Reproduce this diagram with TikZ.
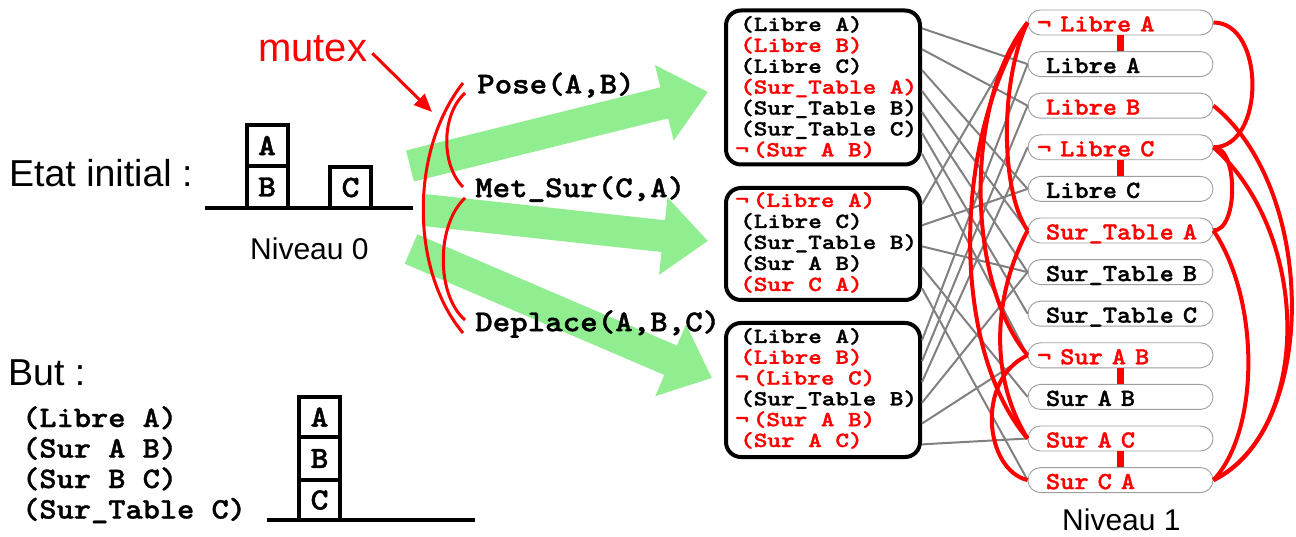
\documentclass[tikz,border=0pt]{standalone}
\usepackage{fontspec}
\setmainfont{Liberation Sans}
\newfontfamily\cour{lmmonolt10-bold.otf}[FakeBold=1.2]
\usepackage{graphicx}
\usetikzlibrary{arrows.meta,calc}
\definecolor{lgreen}{HTML}{90EE90}
% widened typewriter letters (Courier-like proportions)
\newcommand\cw[1]{\scalebox{1.1}[1]{#1}}
\newcommand\cwr[1]{\scalebox{1.2}[1]{#1}}
\newcommand\negsym{\cw{¬}}
\newcommand\negrow{\cwr{¬}}
\begin{document}
\begin{tikzpicture}[x=1pt,y=-1pt,
  blk/.style={draw,line width=4pt,minimum width=41pt,minimum height=41pt,inner sep=0pt,
    font=\fontsize{31}{31}\selectfont\cour},
  ground/.style={line width=4pt},
  mbox/.style={draw,line width=4pt,rounded corners=15pt,minimum width=194pt,fill=white},
  row/.style={anchor=base west,inner sep=0pt,text height=14pt,text depth=3pt,
    font=\fontsize{21.6}{21}\selectfont\cour},
  pill/.style={draw=black!38,line width=0.9pt,fill=white,rounded corners=12.5pt,
    minimum width=185pt,minimum height=25pt,text width=149pt,align=left,
    inner xsep=18pt,inner ysep=0pt,text height=18pt,text depth=0pt,
    font=\fontsize{24.6}{24.6}\selectfont\cour},
  act/.style={anchor=west,inner sep=0pt,font=\fontsize{30.3}{30}\selectfont\cour},
  goal/.style={anchor=base west,inner sep=0pt,text height=19pt,text depth=5pt,
    font=\fontsize{29.8}{30}\selectfont\cour},
  title/.style={anchor=base west,inner sep=0pt,font=\fontsize{37.5}{38}\selectfont},
  level/.style={anchor=base west,inner sep=0pt,font=\fontsize{30}{30}\selectfont},
  flow/.style={draw=lgreen,line width=32pt,-{Triangle[length=45pt,width=75pt]}},
  link/.style={draw=gray,line width=2pt},
  amx/.style={draw=red,line width=3pt},
  mx/.style={draw=red,line width=4pt},
  neg/.style={draw=red,line width=7pt},
]
\useasboundingbox (0,0) rectangle (1296,537);

% ---------- level 0 : initial state ----------
\node[title] (etat) at (9,187) {Etat initial :};
\node[blk] (iA) at (267,145.5) {\cw{A}};
\node[blk,minimum height=42pt] (iB) at (267,187) {\cw{B}};
\node[blk] (iC) at (350.5,187.5) {\cw{C}};
\coordinate (g0l) at (205,208);
\coordinate (g0r) at (413,208);
\draw[ground] (g0l) -- (g0r);
\node[level] (niv0) at (250,260) {Niveau 0};

% ---------- goal ----------
\node[title] (but) at (8,385) {But :};
\node[goal] (go1) at (22,427) {\cw{(Libre A)}};
\node[goal] (go2) at (22,457.5) {\cw{(Sur A B)}};
\node[goal] (go3) at (22,488) {\cw{(Sur B C)}};
\node[goal] (go4) at (22,518.5) {\cw{(Sur\_Table C)}};
\node[blk,minimum height=40pt] (gA) at (319.5,417) {\cw{A}};
\node[blk,minimum height=43pt] (gB) at (319.5,458.5) {\cw{B}};
\node[blk,minimum height=40pt] (gC) at (319.5,500) {\cw{C}};
\coordinate (g1l) at (267,520);
\coordinate (g1r) at (475,520);
\draw[ground] (g1l) -- (g1r);

% ---------- actions (green flows) ----------
\coordinate (f1s) at (410,166);  \coordinate (f1e) at (708,92);
\coordinate (f2s) at (424,210);  \coordinate (f2e) at (708,241);
\coordinate (f3s) at (411,249);  \coordinate (f3e) at (712,378);
\draw[flow] (f1s) -- (f1e);
\draw[flow] (f2s) -- (f2e);
\draw[flow] (f3s) -- (f3e);

\node[act] (pose) at (477,85) {\cw{Pose(A,B)}};
\node[act] (met) at (475,189) {\cw{Met\_Sur(C,A)}};
\node[act] (dep) at (475,324) {\cw{Deplace(A,B,C)}};

% mutex arcs between actions
\draw[amx] ($(pose.west)+(-14,-2)$) .. controls (410,150) and (410,270) .. ($(dep.west)+(-12,9)$);
\draw[amx] ($(pose.west)+(-12,8)$) .. controls (441,115) and (441,165) .. ($(met.west)+(-12,-2)$);
\draw[amx] ($(met.west)+(-10,9)$) .. controls (436,225) and (436,295) .. ($(dep.west)+(-10,-4)$);

\node[anchor=base west,inner sep=0pt,text=red,font=\fontsize{40}{40}\selectfont] (mutex) at (258,62) {mutex};
\coordinate (mxtip) at (432,112);
\draw[red,line width=3pt,-{Triangle[length=18pt,width=15pt]}] ($(mutex.east)+(5,4)$) -- (mxtip);

% ---------- result boxes of the actions ----------
\node[mbox,minimum height=154pt] (b1) at (823,87.5) {};
\node[mbox,minimum height=112pt] (b2) at (823,244) {};
\node[mbox,minimum height=134pt] (b3) at (823,390) {};

\node[row] (b1r1) at (740,31) {\cwr{(Libre A)}};
\node[row,text=red] (b1r2) at (740,51.9) {\cwr{(Libre B)}};
\node[row] (b1r3) at (740,72.8) {\cwr{(Libre C)}};
\node[row,text=red] (b1r4) at (740,93.7) {\cwr{(Sur\_Table A)}};
\node[row] (b1r5) at (740,114.6) {\cwr{(Sur\_Table B)}};
\node[row] (b1r6) at (740,135.5) {\cwr{(Sur\_Table C)}};
\node[row,text=red] (b1r7) at (735,156.4) {\negrow\hspace{4pt}\cwr{(Sur A B)}};

\node[row,text=red] (b2r1) at (735,207) {\negrow\hspace{4pt}\cwr{(Libre A)}};
\node[row] (b2r2) at (740,228) {\cwr{(Libre C)}};
\node[row] (b2r3) at (740,249) {\cwr{(Sur\_Table B)}};
\node[row] (b2r4) at (740,270) {\cwr{(Sur A B)}};
\node[row,text=red] (b2r5) at (740,291) {\cwr{(Sur C A)}};

\node[row] (b3r1) at (740,343) {\cwr{(Libre A)}};
\node[row,text=red] (b3r2) at (740,363.8) {\cwr{(Libre B)}};
\node[row,text=red] (b3r3) at (735,384.6) {\negrow\hspace{4pt}\cwr{(Libre C)}};
\node[row] (b3r4) at (740,405.4) {\cwr{(Sur\_Table B)}};
\node[row,text=red] (b3r5) at (735,426.2) {\negrow\hspace{4pt}\cwr{(Sur A B)}};
\node[row,text=red] (b3r6) at (740,447) {\cwr{(Sur A C)}};

% ---------- level 1 propositions ----------
\node[pill,text=red] (nLA) at (1120.5,22.5) {\hspace*{-9pt}\negsym\hspace{9pt}\cw{Libre A}};
\node[pill] (LA) at (1120.5,64.1) {\cw{Libre A}};
\node[pill,text=red] (LB) at (1120.5,105.7) {\cw{Libre B}};
\node[pill,text=red] (nLC) at (1120.5,147.3) {\hspace*{-9pt}\negsym\hspace{9pt}\cw{Libre C}};
\node[pill] (LC) at (1120.5,188.9) {\cw{Libre C}};
\node[pill,text=red] (STA) at (1120.5,230.5) {\cw{Sur\_Table A}};
\node[pill] (STB) at (1120.5,272.1) {\cw{Sur\_Table B}};
\node[pill] (STC) at (1120.5,313.7) {\cw{Sur\_Table C}};
\node[pill,text=red] (nSAB) at (1120.5,355.3) {\hspace*{-9pt}\negsym\hspace{9pt}\cw{Sur A B}};
\node[pill] (SAB) at (1120.5,396.9) {\cw{Sur A B}};
\node[pill,text=red] (SAC) at (1120.5,438.5) {\cw{Sur A C}};
\node[pill,text=red] (SCA) at (1120.5,480.1) {\cw{Sur C A}};
\node[level] (niv1) at (1062,530) {Niveau 1};

% links from each box line to its proposition
\draw[link] (b1.east |- b1r1.mid) -- (LA.west);
\draw[link] (b1.east |- b1r2.mid) -- (LB.west);
\draw[link] (b1.east |- b1r3.mid) -- (LC.west);
\draw[link] (b1.east |- b1r4.mid) -- (STA.west);
\draw[link] (b1.east |- b1r5.mid) -- (STB.west);
\draw[link] (b1.east |- b1r6.mid) -- (STC.west);
\draw[link] (b1.east |- b1r7.mid) -- (nSAB.west);
\draw[link] (b2.east |- b2r1.mid) -- (nLA.west);
\draw[link] (b2.east |- b2r2.mid) -- (LC.west);
\draw[link] (b2.east |- b2r3.mid) -- (STB.west);
\draw[link] (b2.east |- b2r4.mid) -- (SAB.west);
\draw[link] (b2.east |- b2r5.mid) -- (SCA.west);
\draw[link] (b3.east |- b3r1.mid) -- (LA.west);
\draw[link] (b3.east |- b3r2.mid) -- (LB.west);
\draw[link] (b3.east |- b3r3.mid) -- (nLC.west);
\draw[link] (b3.east |- b3r4.mid) -- (STB.west);
\draw[link] (b3.east |- b3r5.mid) -- (nSAB.west);
\draw[link] (b3.east |- b3r6.mid) -- (SAC.west);

% negation bars
\draw[neg] (nLA.south) -- (LA.north);
\draw[neg] (nLC.south) -- (LC.north);
\draw[neg] (nSAB.south) -- (SAB.north);
\draw[neg] (SAC.south) -- (SCA.north);

% mutex links between propositions (left side)
\draw[mx] (nLA.west) .. controls (1000,80) and (1000,190) .. (STA.west);
\draw[mx] (nLA.west) .. controls (965,100) and (965,280) .. (nSAB.west);
\draw[mx] (nLA.west) .. controls (951,140) and (951,350) .. (SAC.west);
\draw[mx] (STA.west) .. controls (991,300) and (991,380) .. (SAC.west);
\draw[mx] (nSAB.west) .. controls (975,380) and (985,470) .. (SCA.west);

% mutex links between propositions (right side)
\draw[mx] (nLA.east) .. controls +(52,0) and +(52,0) .. (nLC.east);
\draw[mx] (LB.east) .. controls (1318,190) and (1318,430) .. (SCA.east);
\draw[mx] (nLC.east) .. controls (1312,235) and (1312,430) .. (SCA.east);
\draw[mx] (nLC.east) .. controls +(25,0) and +(25,0) .. (STA.east);
\draw[mx] (STA.east) .. controls (1260,300) and (1260,430) .. (SCA.east);
\end{tikzpicture}
\end{document}
